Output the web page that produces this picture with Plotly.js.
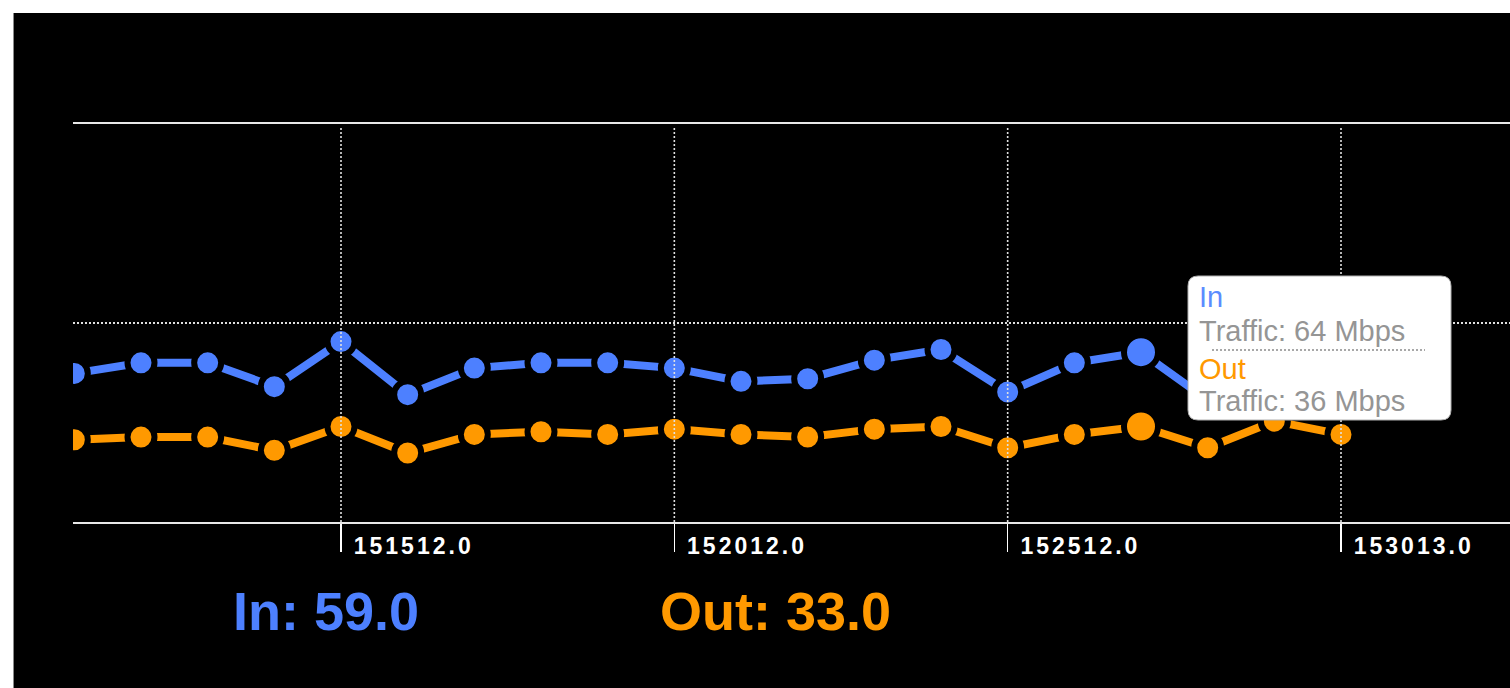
<!DOCTYPE html>
<html>
<head>
<meta charset="utf-8">
<script src="https://cdn.plot.ly/plotly-3.0.1.min.js"></script>
<style>
  html, body { margin: 0; padding: 0; background: #ffffff; }
  #frame { position: absolute; left: 13px; top: 13px; width: 1496px; height: 675px;
           border-left: 1px solid #8a8a8a; background: #000; overflow: hidden; }
  #chart { width: 1496px; height: 675px; }
  .xtick text { letter-spacing: 3px; }
</style>
</head>
<body>
<div id="frame"><div id="chart"></div></div>
<script>
// ---- data ----
const times = ["151112.0", "151212.0", "151312.0", "151412.0", "151512.0",
               "151612.0", "151712.0", "151812.0", "151912.0", "152012.0",
               "152112.0", "152212.0", "152312.0", "152412.0", "152512.0",
               "152612.0", "152712.0", "152812.0", "152912.0", "153013.0"];
const inTraffic  = [56, 60, 60, 51, 68, 48, 58, 60, 60, 58, 53, 54, 61, 65, 49, 60, 64, 46, 62, 59];
const outTraffic = [31, 32, 32, 27, 36, 26, 33, 34, 33, 35, 33, 32, 35, 36, 28, 33, 36, 28, 38, 33];
const seriesNames = ["In", "Out"];
const unit = "Mbps";
const hoverIndex = 16;

// ---- style ----
const BLUE = "#4d80ff";
const ORANGE = "#ff9900";
const FONT = "Liberation Sans, Arial, Helvetica, sans-serif";

// page-pixel -> paper helpers (plot area: left 73, top 124, 1437 x 398 px)
const PL = 73, PT = 124, PW = 1437, PH = 398;
const px = x => (x - PL) / PW;
const py = y => (PT + PH - y) / PH;

const tickIdx = times.map((_, i) => i).filter(i => i % 5 === 4);
const tickVals = tickIdx.map(i => times[i]);
const sizes = times.map((_, i) => i === hoverIndex ? 34 : 27);

function seriesTrace(name, ys, color) {
  return {
    type: "scatter", mode: "lines+markers", name: name,
    x: times, y: ys,
    line: { color: color, width: 8 },
    marker: { size: sizes, color: color, opacity: 1, line: { color: "#000", width: 6 } },
    hoverinfo: "skip"
  };
}

const traces = [
  seriesTrace(seriesNames[0], inTraffic, BLUE),
  seriesTrace(seriesNames[1], outTraffic, ORANGE)
];

// gridlines drawn above the traces
const shapes = tickIdx.map(i => ({
  type: "line", xref: "x", yref: "paper", x0: i, x1: i, y0: 0, y1: 0.99,
  line: { color: "#e0e0e0", width: 1.6, dash: "2px,2px" }, layer: "above"
}));

// tooltip box
(function () {
  const x0 = px(1188), x1 = px(1451), y0 = py(420), y1 = py(276);
  const rx = 10 / PW, ry = 10 / PH;
  const path = `M ${x0 + rx},${y1} L ${x1 - rx},${y1} Q ${x1},${y1} ${x1},${y1 - ry} ` +
               `L ${x1},${y0 + ry} Q ${x1},${y0} ${x1 - rx},${y0} L ${x0 + rx},${y0} ` +
               `Q ${x0},${y0} ${x0},${y0 + ry} L ${x0},${y1 - ry} Q ${x0},${y1} ${x0 + rx},${y1} Z`;
  shapes.push({ type: "path", xref: "paper", yref: "paper", path: path,
                fillcolor: "#ffffff", line: { color: "#b0b0b0", width: 1 }, layer: "above" });
  shapes.push({ type: "line", xref: "paper", yref: "paper",
                x0: px(1212), x1: px(1425), y0: py(350), y1: py(350),
                line: { color: "#8c8c8c", width: 1.5, dash: "2px,2px" }, layer: "above" });
})();

const last = inTraffic.length - 1;
function ann(text, x, y, size, color, bold) {
  return { text: text, xref: "paper", yref: "paper", x: px(x), y: py(y),
           xanchor: "left", yanchor: "middle", showarrow: false,
           font: { family: FONT, size: size, color: color, weight: bold ? "bold" : "normal" } };
}
const annotations = [
  ann(`${seriesNames[0]}: ${inTraffic[last].toFixed(1)}`, 231, 611, 54, BLUE, true),
  ann(`${seriesNames[1]}: ${outTraffic[last].toFixed(1)}`, 658, 611, 54, ORANGE, true),
  ann(seriesNames[0], 1197, 297, 29, "#5b8cff", false),
  ann(`Traffic: ${inTraffic[hoverIndex]} ${unit}`, 1197, 331, 29, "#959595", false),
  ann(seriesNames[1], 1197, 369, 29, ORANGE, false),
  ann(`Traffic: ${outTraffic[hoverIndex]} ${unit}`, 1197, 401, 29, "#959595", false)
];

const layout = {
  width: 1496, height: 675,
  margin: { l: 59, r: 0, t: 111, b: 166, pad: 0 },
  paper_bgcolor: "#000000", plot_bgcolor: "#000000",
  showlegend: false, hovermode: false,
  xaxis: {
    type: "category", range: [-0.02, 21.535],
    tickmode: "array", tickvals: tickVals,
    ticks: "outside", ticklen: 28, tickwidth: 1.5, tickcolor: "#ffffff",
    ticklabelposition: "outside right", ticklabelshift: 11, ticklabelstandoff: 2,
    showline: true, linecolor: "#e8e8e8", linewidth: 2, mirror: true,
    showgrid: false, zeroline: false,
    tickfont: { family: FONT, size: 23, color: "#ffffff", weight: "bold" },
    fixedrange: true
  },
  yaxis: {
    range: [0, 150], tickvals: [75], showticklabels: false, ticks: "",
    showgrid: true, gridcolor: "#e0e0e0", griddash: "2px,2px", gridwidth: 1.6,
    zeroline: false, showline: false, fixedrange: true
  },
  shapes: shapes,
  annotations: annotations
};

Plotly.newPlot("chart", traces, layout, { displayModeBar: false, staticPlot: true });
</script>
</body>
</html>
